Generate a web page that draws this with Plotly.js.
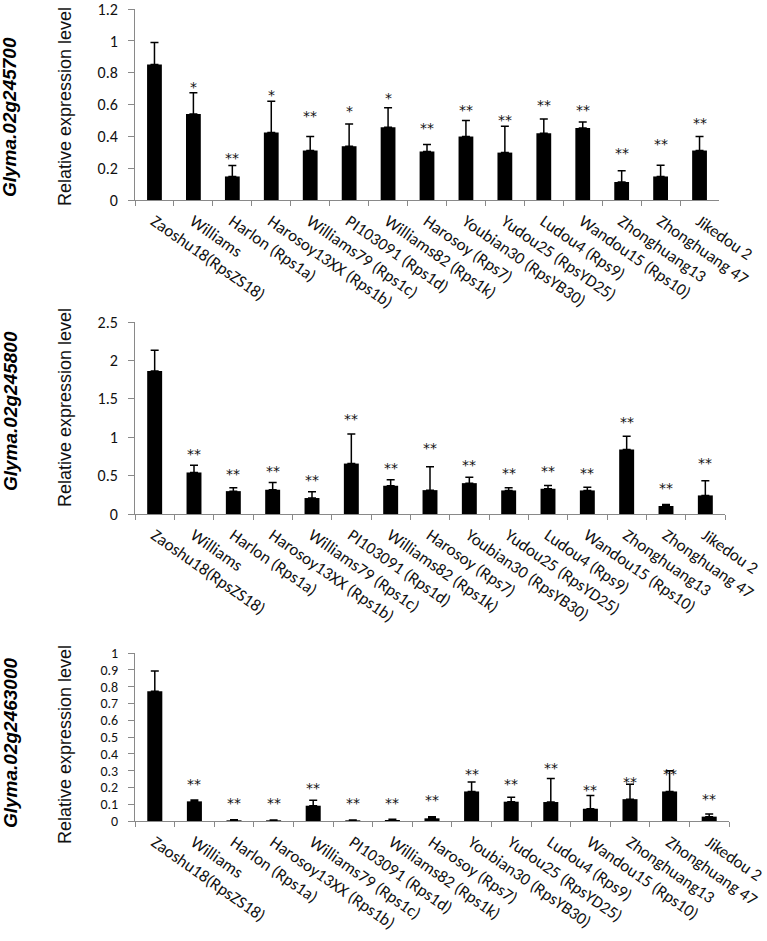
<!DOCTYPE html>
<html>
<head>
<meta charset="utf-8">
<script src="https://cdn.plot.ly/plotly-3.0.1.min.js"></script>
<style>
html,body{margin:0;padding:0;background:#fff;}
#chart{width:767px;height:941px;}
</style>
</head>
<body>
<div id="chart"></div>
<script>
// ---- data ----
const categories = ['Zaoshu18(RpsZS18)','Williams','Harlon (Rps1a)','Harosoy13XX (Rps1b)','Williams79 (Rps1c)','PI103091 (Rps1d)','Williams82 (Rps1k)','Harosoy (Rps7)','Youbian30 (RpsYB30)','Yudou25 (RpsYD25)','Ludou4 (Rps9)','Wandou15 (Rps10)','Zhonghuang13','Zhonghuang 47','Jikedou 2'];

const genes = ['Glyma.02g245700','Glyma.02g245800','Glyma.02g2463000'];

const values1 = [0.852,0.540,0.148,0.424,0.311,0.338,0.457,0.305,0.399,0.298,0.419,0.452,0.113,0.148,0.311];
const errors1 = [0.138,0.134,0.069,0.196,0.088,0.140,0.123,0.044,0.101,0.165,0.090,0.038,0.071,0.071,0.088];
const sig1     = ['','*','**','*','**','*','*','**','**','**','**','**','**','**','**'];
const sigLevel1 = [null,0.737,0.286,0.684,0.551,0.584,0.668,0.476,0.593,0.530,0.620,0.590,0.322,0.375,0.507];

const values2 = [1.864,0.541,0.298,0.316,0.208,0.657,0.368,0.311,0.402,0.307,0.329,0.307,0.839,0.104,0.242];
const errors2 = [0.268,0.095,0.044,0.095,0.082,0.385,0.078,0.303,0.078,0.035,0.043,0.043,0.173,0.021,0.191];
const sig2     = ['','**','**','**','**','**','**','**','**','**','**','**','**','**','**'];
const sigLevel2 = [null,0.830,0.575,0.606,0.497,1.293,0.657,0.908,0.692,0.588,0.614,0.588,1.254,0.389,0.722];

const values3 = [0.773,0.117,0.004,0.004,0.091,0.004,0.006,0.016,0.176,0.115,0.113,0.073,0.130,0.176,0.026];
const errors3 = [0.120,0.008,0.004,0.002,0.032,0.002,0.004,0.010,0.057,0.027,0.140,0.079,0.089,0.124,0.016];
const sig3     = ['','**','**','**','**','**','**','**','**','**','**','**','**','**','**'];
const sigLevel3 = [null,0.245,0.130,0.130,0.221,0.130,0.130,0.146,0.304,0.245,0.340,0.206,0.257,0.304,0.156];

const yTicks1 = [0,0.2,0.4,0.6,0.8,1,1.2];
const yTickText1 = ['0','0.2','0.4','0.6','0.8','1','1.2'];
const yTicks2 = [0,0.5,1,1.5,2,2.5];
const yTickText2 = ['0','0.5','1','1.5','2','2.5'];
const yTicks3 = [0,0.1,0.2,0.3,0.4,0.5,0.6,0.7,0.8,0.9,1];
const yTickText3 = ['0','0.1','0.2','0.3','0.4','0.5','0.6','0.7','0.8','0.9','1'];
const yMax = [1.2, 2.5, 1];

// ---- layout helpers (pixel geometry) ----
const W = 767, H = 941;
const panels = [
  {x0:135, x1:719, yTop:9,   yBot:200, gene:117, ytitle:107, tickSize:16},
  {x0:135, x1:725, yTop:322, yBot:514, gene:411, ytitle:408, tickSize:16},
  {x0:135, x1:729, yTop:653, yBot:821, gene:743, ytitle:745, tickSize:14}
];
const allValues = [values1, values2, values3];
const allErrors = [errors1, errors2, errors3];
const allSig = [sig1, sig2, sig3];
const allSigLevel = [sigLevel1, sigLevel2, sigLevel3];
const allTicks = [yTicks1, yTicks2, yTicks3];
const allTickText = [yTickText1, yTickText2, yTickText3];

const AXIS_GREY = '#898989';
const TICK_FONT = 'Carlito, "Liberation Sans Narrow", "DejaVu Sans Condensed", sans-serif';
const ARIAL = '"Liberation Sans", Arial, sans-serif';
const STAR_FONT = '"DejaVu Sans", sans-serif';

const traces = [];
const layout = {
  width: W, height: H,
  margin: {l:0, r:0, t:0, b:0},
  paper_bgcolor: '#fff', plot_bgcolor: '#fff',
  showlegend: false,
  annotations: []
};

panels.forEach((p, i) => {
  const n = i + 1;
  const xa = n === 1 ? 'x' : 'x' + n;
  const ya = n === 1 ? 'y' : 'y' + n;
  traces.push({
    type: 'bar',
    x: categories,
    y: allValues[i],
    xaxis: xa, yaxis: ya,
    width: 0.38,
    marker: {color: '#000', line: {width: 0}},
    error_y: {
      type: 'data', symmetric: false,
      array: allErrors[i],
      arrayminus: allErrors[i].map(() => 0),
      color: '#000', thickness: 1.5, width: 4
    },
    hoverinfo: 'none'
  });
  const xkey = n === 1 ? 'xaxis' : 'xaxis' + n;
  const ykey = n === 1 ? 'yaxis' : 'yaxis' + n;
  layout[xkey] = {
    domain: [p.x0 / W, p.x1 / W],
    anchor: ya,
    type: 'category',
    range: [-0.5, categories.length - 0.5],
    showline: true, linecolor: AXIS_GREY, linewidth: 1,
    ticks: 'outside', tickson: 'boundaries', ticklen: 5, tickcolor: AXIS_GREY, tickwidth: 1,
    tickangle: 35, ticklabelstandoff: 4, ticklabeloverflow: 'allow',
    tickfont: {family: TICK_FONT, size: 17, color: '#111'},
    showgrid: false, zeroline: false, fixedrange: true
  };
  layout[ykey] = {
    domain: [1 - p.yBot / H, 1 - p.yTop / H],
    anchor: xa,
    range: [0, yMax[i] * 1.0005],
    tickmode: 'array', tickvals: allTicks[i], ticktext: allTickText[i],
    showline: true, linecolor: AXIS_GREY, linewidth: 1,
    ticks: 'outside', ticklen: 6, tickcolor: AXIS_GREY, tickwidth: 1,
    ticklabelstandoff: 7, ticklabeloverflow: 'allow',
    tickfont: {family: TICK_FONT, size: p.tickSize, color: '#111'},
    showgrid: false, zeroline: false, fixedrange: true
  };
  // significance stars
  allSig[i].forEach((s, k) => {
    if (!s) return;
    layout.annotations.push({
      xref: xa, yref: ya, x: categories[k], y: allSigLevel[i][k],
      text: s, showarrow: false, yanchor: 'middle', yshift: -4,
      font: {family: STAR_FONT, size: 14, color: '#111'}
    });
  });
  // y title
  layout.annotations.push({
    xref: 'paper', yref: 'paper', x: 65 / W, y: 1 - p.ytitle / H,
    text: 'Relative expression level', textangle: -90, showarrow: false,
    xanchor: 'center', yanchor: 'middle',
    font: {family: ARIAL, size: 18, color: '#111'}
  });
  // gene label
  layout.annotations.push({
    xref: 'paper', yref: 'paper', x: 10 / W, y: 1 - p.gene / H,
    text: '<b><i>' + genes[i] + '</i></b>', textangle: -90, showarrow: false,
    xanchor: 'center', yanchor: 'middle',
    font: {family: ARIAL, size: 19, color: '#000'}
  });
});

Plotly.newPlot('chart', traces, layout, {staticPlot: true, displayModeBar: false});
</script>
</body>
</html>
